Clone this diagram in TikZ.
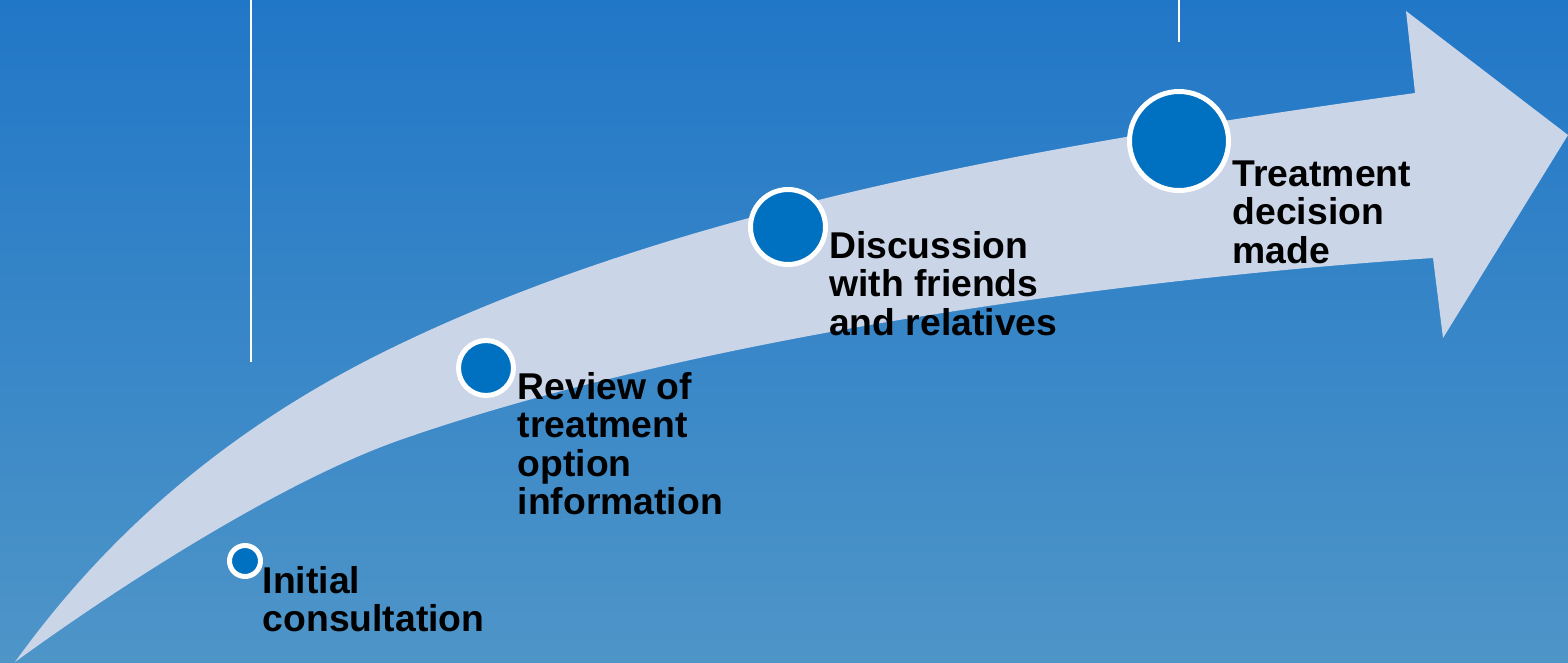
\documentclass[tikz,border=0pt]{standalone}
\usepackage{fontspec}
\setmainfont{Liberation Sans}
\definecolor{bgtop}{RGB}{33,119,199}
\definecolor{bgbot}{RGB}{78,149,200}
\definecolor{arrowfill}{RGB}{203,213,232}
\definecolor{dotblue}{RGB}{0,112,192}
\tikzset{
  stepdot/.style={circle, fill=dotblue, draw=white, line width=5pt, inner sep=0pt},
  steplabel/.style={anchor=base west, inner sep=0pt, text=black,
    font=\fontsize{37.3}{38.5}\selectfont\bfseries},
  divider/.style={draw=white, line width=2.5pt}
}
\begin{document}
\begin{tikzpicture}[x=1pt,y=-1pt]
\useasboundingbox (0,0) rectangle (1568,662);
\shade[top color=bgtop, bottom color=bgbot] (0,0) rectangle (1568,662);
% vertical white lines
\coordinate (l1top) at (251,0);
\coordinate (l1bot) at (251,362);
\coordinate (l2top) at (1179,0);
\coordinate (l2bot) at (1179,42);
\draw[divider] (l1top) -- (l1bot);
\draw[divider] (l2top) -- (l2bot);
% curved arrow
\fill[arrowfill]
  (15,662) .. controls (130,502) and (270,406) .. (400,344)
  .. controls (700,200) and (1085,139) .. (1415,93)
  -- (1406,11) -- (1568,135) -- (1443,338) -- (1433,258)
  .. controls (1133,278) and (700,335) .. (400,440)
  .. controls (280,482) and (115,589) .. (15,662)
  -- cycle;
% step dots
\node[stepdot, minimum size=31pt] (c1) at (245,561) {};
\node[stepdot, minimum size=55pt] (c2) at (486,368) {};
\node[stepdot, minimum size=75pt] (c3) at (788,227) {};
\node[stepdot, minimum size=99pt] (c4) at (1179,141) {};
% labels
\node[steplabel] (t1) at (262.5,593) {\begin{tabular}[t]{@{}l@{}}Initial\\consultation\end{tabular}};
\node[steplabel] (t2) at (517.5,399) {\begin{tabular}[t]{@{}l@{}}Review of\\treatment\\option\\information\end{tabular}};
\node[steplabel] (t3) at (829,258) {\begin{tabular}[t]{@{}l@{}}Discussion\\with friends\\and relatives\end{tabular}};
\node[steplabel] (t4) at (1232.5,186) {\begin{tabular}[t]{@{}l@{}}Treatment\\decision\\made\end{tabular}};
\end{tikzpicture}
\end{document}
